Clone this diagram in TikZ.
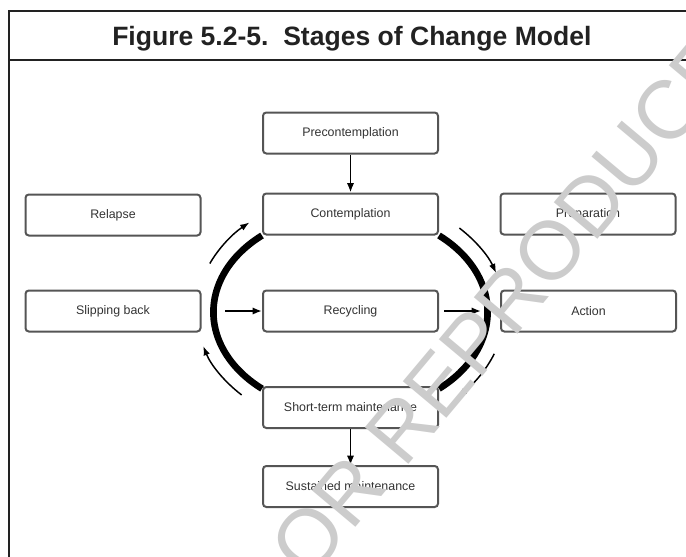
\documentclass[tikz,border=0pt]{standalone}
\usepackage{fontspec}
\setmainfont{Liberation Sans}
\usetikzlibrary{arrows.meta}
\definecolor{boxline}{HTML}{555555}
\definecolor{txt}{HTML}{333333}
\definecolor{frame}{HTML}{222222}
\definecolor{wm}{HTML}{CCCCCC}
\begin{document}
\begin{tikzpicture}[x=0.75pt,y=-0.75pt,
  stage/.style={draw=boxline, line width=1.5pt, rounded corners=2.5pt, fill=white,
    inner sep=0pt, minimum width=131.25pt, minimum height=30.75pt,
    font=\fontsize{9.3}{11}\selectfont, text=txt},
  flow/.style={line width=1.4pt, -{Latex[length=7pt,width=5.5pt]}},
  cyc/.style={line width=1.1pt, -{Latex[length=7pt,width=5pt]}},
  ring/.style={line width=5pt},
  frameline/.style={draw=frame, line width=2.2pt}]
\useasboundingbox (0,0) rectangle (686,557);
\fill[white] (0,0) rectangle (686,557);
% frame
\draw[frameline] (9,557) -- (9,11) -- (690,11);
\draw[frameline] (9,60) -- (690,60);
\node[anchor=base west, inner sep=0pt, text=frame, font=\fontsize{19.9}{22}\selectfont\bfseries] (title) at (112,45) {Figure 5.2-5.\ \ Stages of Change Model};
% stages
\node[stage] (pre)   at (350.5,133)   {Precontemplation};
\node[stage] (con)   at (350.5,214)   {Contemplation};
\node[stage] (rel)   at (113,215)     {Relapse};
\node[stage] (prep)  at (588,214)     {Preparation};
\node[stage] (slip)  at (113,311)     {Slipping back};
\node[stage] (rec)   at (350.5,311)   {Recycling};
\node[stage] (act)   at (588.5,311)   {Action};
\node[stage] (short) at (350.5,407.5) {Short-term maintenance};
\node[stage] (sust)  at (350.5,486.5) {Sustained maintenance};
% cycle ring
\coordinate (ctr) at (350.5,311.5);
\draw[ring] (con.south west) arc[start angle=230, end angle=130, x radius=136, y radius=100];
\draw[ring] (con.south east) arc[start angle=-50, end angle=50, x radius=136, y radius=100];
% cycle arrows
\path (ctr) ++(204:154 and 118) coordinate (ulS);
\path (ctr) ++(-45:154 and 118) coordinate (urS);
\path (ctr) ++(21:154 and 118) coordinate (lrS);
\path (ctr) ++(135:154 and 118) coordinate (llS);
\draw[cyc] (ulS) arc[start angle=204, end angle=229, x radius=154, y radius=118];
\draw[cyc] (urS) arc[start angle=-45, end angle=-19, x radius=154, y radius=118];
\draw[cyc] (lrS) arc[start angle=21, end angle=46, x radius=154, y radius=118];
\draw[cyc] (llS) arc[start angle=135, end angle=163, x radius=154, y radius=118];
% straight arrows
\coordinate (lin) at (225,311);
\coordinate (rin) at (481,311);
\draw[flow] (pre) -- (con);
\draw[flow] (short) -- (sust);
\draw[flow] (lin) -- (rec.west);
\draw[flow, shorten <=4pt] (rec.east) -- (rin);
% watermark
\node[rotate=50, text=wm, inner sep=0pt, font=\fontsize{62}{62}\selectfont] (wmark) at (505,305) {OR REPRODUCE};
\end{tikzpicture}
\end{document}
